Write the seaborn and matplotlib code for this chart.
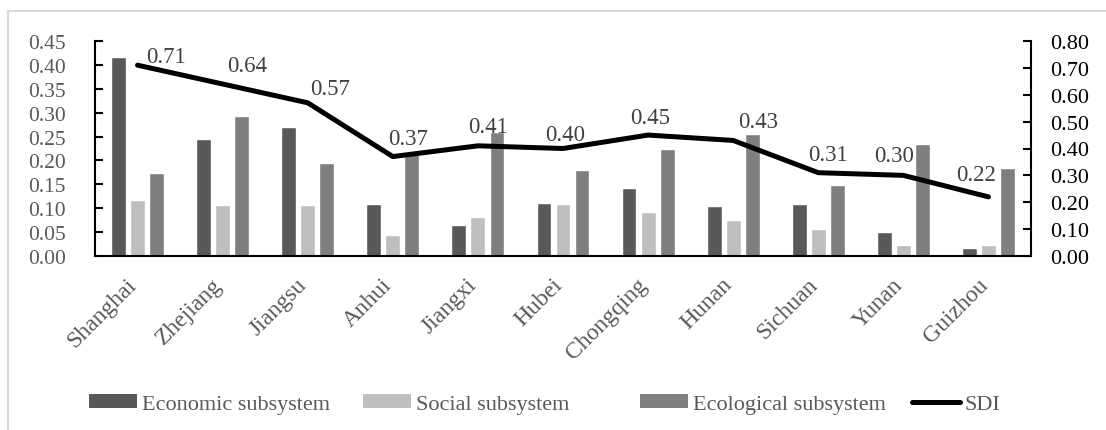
import numpy as np
import pandas as pd
import matplotlib
matplotlib.use("Agg")
import matplotlib.pyplot as plt
from matplotlib.patches import Patch, Rectangle
from matplotlib.lines import Line2D
from matplotlib.ticker import FormatStrFormatter, MultipleLocator
from matplotlib.transforms import ScaledTranslation
import seaborn as sns

# Provinces along the Yangtze River Economic Belt
provinces = ["Shanghai", "Zhejiang", "Jiangsu", "Anhui", "Jiangxi", "Hubei",
             "Chongqing", "Hunan", "Sichuan", "Yunan", "Guizhou"]

# Subsystem scores (left axis)
economic = [0.417, 0.245, 0.269, 0.108, 0.064, 0.111, 0.142, 0.105, 0.109, 0.050, 0.017]
social = [0.117, 0.107, 0.107, 0.043, 0.082, 0.108, 0.092, 0.075, 0.057, 0.024, 0.024]
ecological = [0.174, 0.294, 0.195, 0.213, 0.260, 0.179, 0.223, 0.256, 0.148, 0.234, 0.184]

# Sustainable development index (right axis)
sdi = [0.71, 0.64, 0.57, 0.37, 0.41, 0.40, 0.45, 0.43, 0.31, 0.30, 0.22]

series_names = ["Economic subsystem", "Social subsystem", "Ecological subsystem"]
series_colors = ["#595959", "#bfbfbf", "#7f7f7f"]

# Hand-placed offsets (pixels) of the SDI value labels relative to each point
label_dx = [28, 24, 22, 15, 10, 2, 2, 25, 10, -9, -12]
label_dy = [9, 18, 14, 18, 19, 14, 18, 19, 18, 20, 22]

df = pd.DataFrame({
    "Province": provinces * 3,
    "Subsystem": sum([[n] * len(provinces) for n in series_names], []),
    "Score": economic + social + ecological,
})

sns.set_theme(style="white")
plt.rcParams["font.family"] = ["Liberation Serif", "DejaVu Serif"]

W, H = 1106, 431
fig = plt.figure(figsize=(W / 100, H / 100), dpi=100)
ax = fig.add_axes([95 / W, 1 - 257 / H, (1031 - 95) / W, (257 - 42) / H])

sns.barplot(data=df, x="Province", y="Score", hue="Subsystem",
            hue_order=series_names, palette=series_colors, order=provinces,
            width=0.67, gap=0.22, saturation=1, legend=False, ax=ax)

ax.set_xlim(-0.5, len(provinces) - 0.5)
ax.set_ylim(0, 0.45)
ax.yaxis.set_major_locator(MultipleLocator(0.05))
ax.yaxis.set_major_formatter(FormatStrFormatter("%.2f"))
ax.set_xlabel("")
ax.set_ylabel("")
ax.tick_params(axis="y", direction="in", length=6, width=1.5,
               labelsize=15.5, labelcolor="#595959", colors="black", pad=21)
ax.tick_params(axis="x", length=0, labelsize=17, labelcolor="#595959", pad=18)
shift = ScaledTranslation(-4 / 100, 0, fig.dpi_scale_trans)
for lab in ax.get_xticklabels():
    lab.set_rotation(45)
    lab.set_ha("right")
    lab.set_va("center")
    lab.set_rotation_mode("anchor")
    lab.set_transform(lab.get_transform() + shift)
for side in ["top", "right"]:
    ax.spines[side].set_visible(False)
for side in ["left", "bottom"]:
    ax.spines[side].set_color("black")
    ax.spines[side].set_linewidth(1.5)

# SDI line on a secondary axis
ax2 = ax.twinx()
sns.lineplot(x=provinces, y=sdi, sort=False, color="black", linewidth=3.6,
             solid_capstyle="round", ax=ax2)
ax2.set_ylim(0, 0.8)
ax2.yaxis.set_major_locator(MultipleLocator(0.1))
ax2.yaxis.set_major_formatter(FormatStrFormatter("%.2f"))
ax2.tick_params(axis="y", direction="in", length=6, width=1.5,
                labelsize=16, labelcolor="black", colors="black", pad=14)
ax2.set_ylabel("")
for side in ["top", "left", "bottom"]:
    ax2.spines[side].set_visible(False)
ax2.spines["right"].set_color("black")
ax2.spines["right"].set_linewidth(1.5)

for i, (name, v) in enumerate(zip(provinces, sdi)):
    ax2.annotate(f"{v:.2f}", xy=(i, v), xytext=(label_dx[i], label_dy[i]),
                 textcoords="offset pixels", ha="center", va="center",
                 fontsize=16.5, color="#404040")

# Legend entries spread along the bottom
handles = [Patch(facecolor=c, edgecolor="none") for c in series_colors]
handles.append(Line2D([0], [0], color="black", linewidth=3.6))
labels = series_names + ["SDI"]
legend_x = [89, 363, 640, 912]
for h, l, xp in zip(handles, labels, legend_x):
    fig.legend([h], [l], loc="center left", bbox_to_anchor=(xp / W, 1 - 405 / H),
               frameon=False, fontsize=16, handlelength=2.16, handleheight=0.55,
               handletextpad=0.22, borderpad=0, borderaxespad=0,
               labelcolor="#595959")

# Light outer frame
fig.add_artist(Rectangle((8 / W, -0.2), 2, 1.2 - 12 / H, transform=fig.transFigure,
                         fill=False, edgecolor="#d9d9d9", linewidth=1.5))

fig.savefig("out.png", dpi=100)
